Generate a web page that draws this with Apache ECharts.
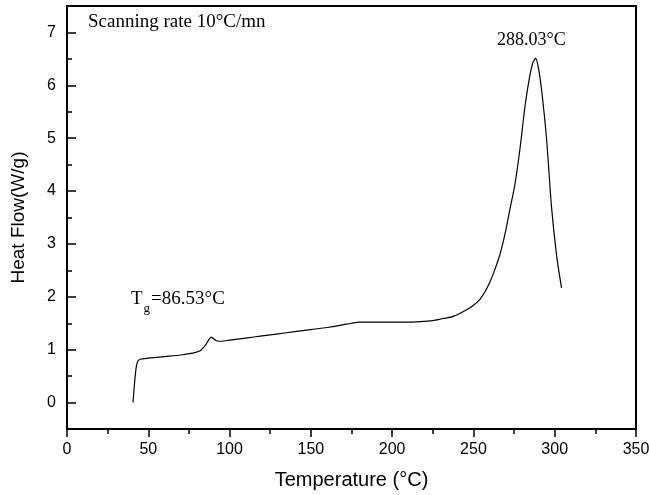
<!DOCTYPE html>
<html>
<head>
<meta charset="utf-8">
<script src="https://cdn.jsdelivr.net/npm/echarts@6/dist/echarts.min.js"></script>
<style>html,body{margin:0;padding:0;background:#fff}#c{width:649px;height:495px}</style>
</head>
<body>
<div id="c"></div>
<script>
var temperature = [40.6, 41.5, 42.5, 43.5, 45, 50, 60, 70, 78, 82, 85, 87.5, 88.8, 90, 92, 95, 100, 110, 120, 130, 140, 150, 160, 168, 175, 180, 190, 200, 210, 217, 225, 230, 237.6, 245, 250, 254, 257, 260, 263, 266.3, 269.5, 272.4, 275.5, 278.6, 281.7, 284.5, 286.5, 288.2, 289.8, 291.9, 295, 298, 301.2, 304.2];
var heatFlow = [0.0, 0.35, 0.65, 0.78, 0.82, 0.84, 0.87, 0.9, 0.94, 0.98, 1.08, 1.2, 1.24, 1.21, 1.17, 1.16, 1.18, 1.22, 1.26, 1.30, 1.34, 1.38, 1.42, 1.46, 1.5, 1.52, 1.52, 1.52, 1.52, 1.53, 1.55, 1.58, 1.63, 1.74, 1.84, 1.95, 2.09, 2.27, 2.5, 2.8, 3.2, 3.65, 4.12, 4.79, 5.6, 6.15, 6.42, 6.51, 6.36, 5.92, 4.98, 3.71, 2.77, 2.17];
var yMajorTicks = [0, 1, 2, 3, 4, 5, 6, 7];
var xTitle = 'Temperature (°C)';
var yTitle = 'Heat Flow(W/g)';

var points = temperature.map(function (t, i) { return [t, heatFlow[i]]; });

var chart = echarts.init(document.getElementById('c'), null, {renderer: 'canvas'});
var axisFont = {color: '#000', fontFamily: 'Liberation Sans, Arial, sans-serif', fontSize: 16};
chart.setOption({
  animation: false,
  backgroundColor: '#fff',
  grid: {left: 67, top: 6, right: 13, bottom: 66, outerBoundsMode: 'none', containLabel: false, show: true, borderColor: '#000', borderWidth: 2, backgroundColor: 'transparent'},
  xAxis: {
    type: 'value', min: 0, max: 350, interval: 50,
    name: xTitle, nameLocation: 'middle', nameGap: 41,
    nameTextStyle: {color: '#000', fontFamily: 'Liberation Sans, Arial, sans-serif', fontSize: 20},
    axisLine: {show: true, onZero: false, lineStyle: {color: '#000', width: 2}},
    axisTick: {show: true, inside: false, length: 8, lineStyle: {color: '#000', width: 1.5}},
    minorTick: {show: true, splitNumber: 2, length: 5, lineStyle: {color: '#000', width: 1.5}},
    axisLabel: Object.assign({margin: 13, hideOverlap: false}, axisFont),
    splitLine: {show: false}
  },
  yAxis: [{
    type: 'value', min: -0.5, max: 7.5, position: 'left',
    name: yTitle, nameLocation: 'middle', nameGap: 39,
    nameTextStyle: {color: '#000', fontFamily: 'Liberation Sans, Arial, sans-serif', fontSize: 19},
    axisLine: {show: true, onZero: false, lineStyle: {color: '#000', width: 2}},
    axisTick: {show: true, inside: true, length: 9, customValues: yMajorTicks, lineStyle: {color: '#000', width: 1.5}},
    axisLabel: Object.assign({margin: 11, customValues: yMajorTicks}, axisFont),
    splitLine: {show: false}
  }, {
    type: 'value', min: -0.5, max: 7.5, interval: 0.5, position: 'left', offset: 0,
    axisLine: {show: false},
    axisTick: {show: true, inside: true, length: 5, lineStyle: {color: '#000', width: 1.5}},
    axisLabel: {show: false},
    splitLine: {show: false}
  }],
  series: [{
    type: 'line', data: points, xAxisIndex: 0, yAxisIndex: 0,
    showSymbol: false, smooth: 0.25,
    lineStyle: {color: '#000', width: 1.2}
  }],
  graphic: [
    {type: 'text', left: 88, top: 13, style: {text: 'Scanning rate 10°C/mn', font: '19px "Liberation Serif", "Times New Roman", serif', fill: '#000'}},
    {type: 'text', left: 497, top: 31, style: {text: '288.03°C', font: '18px "Liberation Serif", "Times New Roman", serif', fill: '#000'}},
    {type: 'text', left: 131, top: 290, style: {
      text: '{t|T}{s|g}{t|=86.53°C}',
      rich: {
        t: {fontFamily: 'Liberation Serif, Times New Roman, serif', fontSize: 19, fill: '#000', verticalAlign: 'bottom'},
        s: {fontFamily: 'Liberation Serif, Times New Roman, serif', fontSize: 13, fill: '#000', padding: [0, 1, -6, 1], verticalAlign: 'bottom'}
      }
    }}
  ]
});
</script>
</body>
</html>
